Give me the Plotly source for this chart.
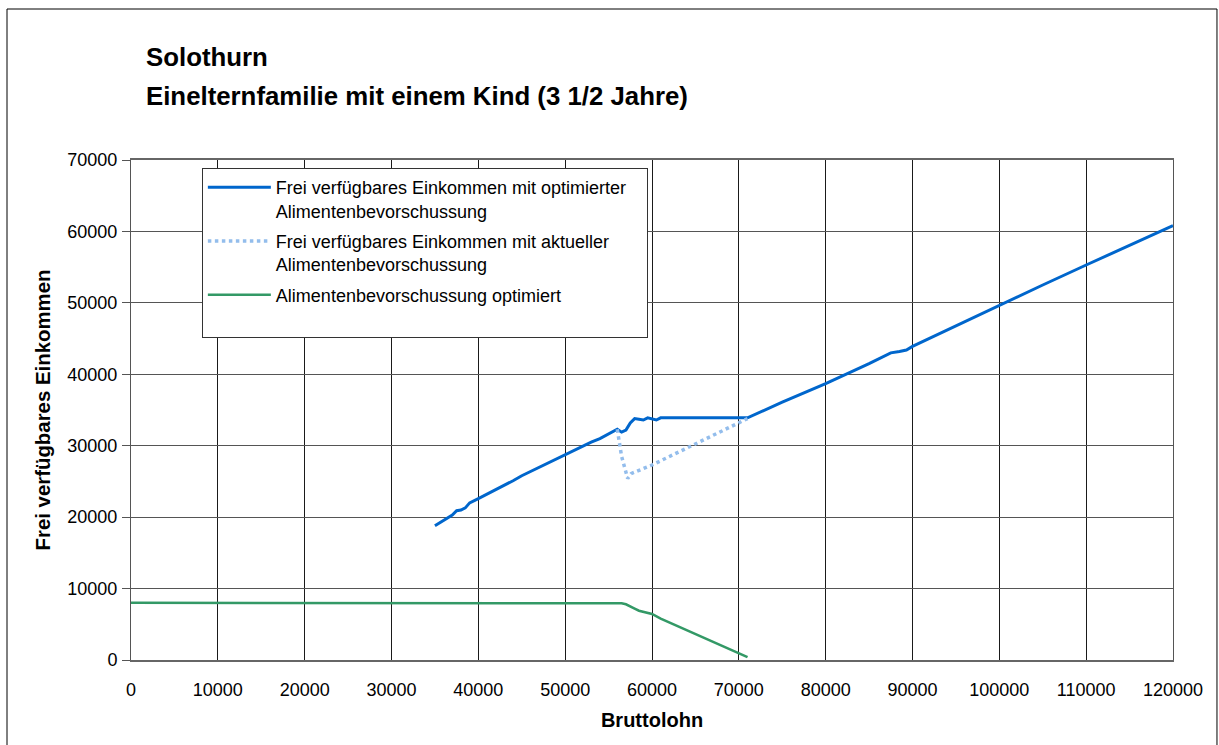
import plotly.graph_objects as go

# ---- data ----
x_opt = [35000, 36000, 37000, 37500, 38000, 38500, 39000, 40000, 41000, 42000, 43000, 44000,
         45000, 46000, 47000, 48000, 49000, 50000, 51000, 52000, 53000, 54000, 55000, 56000,
         56500, 57000, 57500, 58000, 58500, 59000, 59500, 60000, 60500, 61000, 65000, 71000,
         75000, 80000, 85000, 87500, 88500, 89300, 90000, 95000, 100000, 105000, 110000, 115000, 120000]
y_opt = [18800, 19500, 20300, 20900, 21000, 21300, 22000, 22600, 23200, 23800, 24500, 25100,
         25800, 26400, 26900, 27600, 28100, 28700, 29300, 30000, 30500, 31000, 31600, 32300,
         31900, 32200, 33200, 33800, 33700, 33600, 33900, 33800, 33600, 33900, 33900, 33900,
         36100, 38700, 41500, 43000, 43200, 43400, 43900, 46800, 49700, 52500, 55300, 58000, 60800]

x_akt = [56000, 56500, 57200, 57600, 60000, 65000, 71000]
y_akt = [32300, 28500, 25400, 26100, 27300, 30300, 33800]

x_alim = [0, 10000, 20000, 30000, 40000, 50000, 56000, 56500, 57000, 57500, 58000, 58500,
          59000, 60000, 61000, 65000, 71000]
y_alim = [8000, 8000, 8000, 8000, 8000, 8000, 8000, 7950, 7800, 7550, 7200, 6900,
          6750, 6450, 5800, 3650, 400]

names = [
    "Frei verfügbares Einkommen mit optimierter&nbsp;&nbsp;&nbsp;<br>Alimentenbevorschussung",
    "Frei verfügbares Einkommen mit aktueller<br>Alimentenbevorschussung",
    "Alimentenbevorschussung optimiert<br> ",
]
title_lines = ["Solothurn", "Einelternfamilie mit einem Kind (3 1/2 Jahre)"]
x_title = "Bruttolohn"
y_title = "Frei verfügbares Einkommen"
x_ticks = list(range(0, 120001, 10000))
y_ticks = list(range(0, 70001, 10000))

FONT = "Liberation Sans, Arial, sans-serif"

fig = go.Figure()
fig.add_trace(go.Scatter(x=x_opt, y=y_opt, mode="lines", name=names[0], legendgroup="a",
                         line=dict(color="#0066cc", width=3)))
fig.add_trace(go.Scatter(x=x_akt, y=y_akt, mode="lines", name=names[1], legendgroup="b",
                         line=dict(color="#93bdec", width=3.5, dash="dot")))
fig.add_trace(go.Scatter(x=x_alim, y=y_alim, mode="lines", name=names[2], legendgroup="c",
                         line=dict(color="#339966", width=2.5)))

fig.update_layout(
    width=1219, height=745,
    margin=dict(l=131, r=46, t=160, b=85),
    paper_bgcolor="white", plot_bgcolor="white",
    font=dict(family=FONT, size=18, color="black"),
    showlegend=True,
    legend=dict(x=0.068, y=0.984, xanchor="left", yanchor="top",
                bgcolor="white", bordercolor="#333", borderwidth=1,
                font=dict(family=FONT, size=18, color="black"),
                valign="top", tracegroupgap=4, itemwidth=63),
    xaxis=dict(range=[0, 120000], tickvals=x_ticks, ticktext=[str(v) for v in x_ticks],
               showgrid=True, gridcolor="#1a1a1a", gridwidth=1,
               showline=True, linecolor="#666", linewidth=2, mirror=True,
               ticks="", ticklabelstandoff=12, zeroline=False,
               tickfont=dict(family=FONT, size=18, color="black"),
               title=dict(text="<b>" + x_title + "</b>", standoff=14,
                          font=dict(family=FONT, size=20, color="black"))),
    yaxis=dict(range=[0, 70000], tickvals=y_ticks, ticktext=[str(v) for v in y_ticks],
               showgrid=True, gridcolor="#555", gridwidth=1,
               showline=True, linecolor="#555", linewidth=1, mirror=True,
               ticks="outside", ticklen=8, tickcolor="#555", ticklabelstandoff=1,
               zeroline=False,
               tickfont=dict(family=FONT, size=18, color="black"),
               title=dict(text="<b>" + y_title + "</b>", standoff=11,
                          font=dict(family=FONT, size=20.4, color="black"))),
    annotations=[
        dict(text="<b>" + title_lines[0] + "</b>", xref="paper", yref="paper",
             x=0.0125, y=1.206, xanchor="left", yanchor="middle", showarrow=False,
             font=dict(family=FONT, size=25.8, color="black")),
        dict(text="<b>" + title_lines[1] + "</b>", xref="paper", yref="paper",
             x=0.0125, y=1.128, xanchor="left", yanchor="middle", showarrow=False,
             font=dict(family=FONT, size=25.8, color="black")),
    ],
    shapes=[dict(type="rect", xref="paper", yref="paper",
                 x0=-0.1190, x1=1.0422, y0=-0.3, y1=1.302,
                 line=dict(color="black", width=1), fillcolor="rgba(0,0,0,0)",
                 layer="below")],
)

fig.write_html("out.html", config={"displayModeBar": False},
               post_script="document.body.style.margin='0';")
